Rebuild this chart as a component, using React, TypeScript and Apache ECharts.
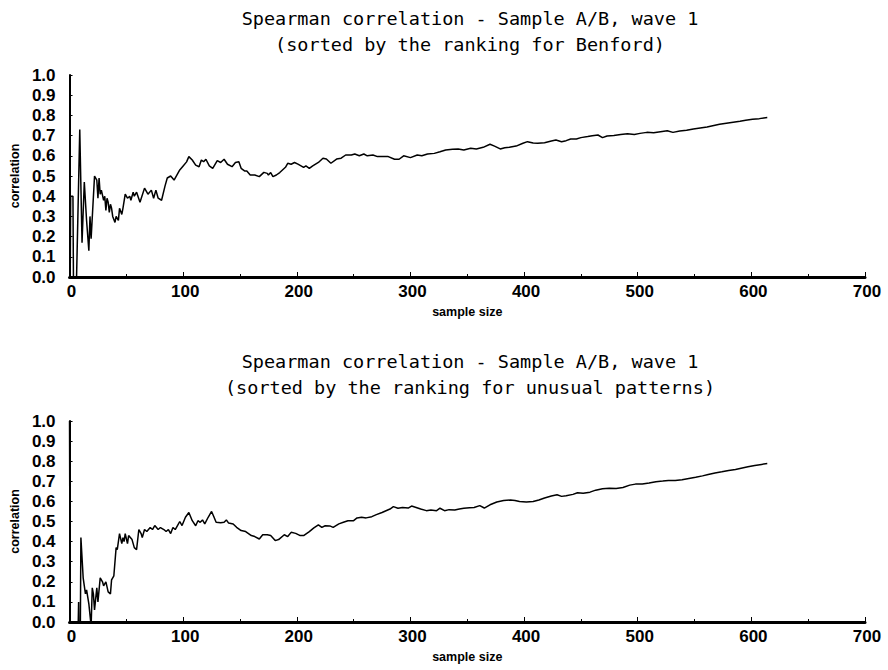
import React, { useEffect, useRef } from "react";
import * as echarts from "echarts";

const titleTop = "Spearman correlation - Sample A/B, wave 1\n(sorted by the ranking for Benford)";
const titleBottom = "Spearman correlation - Sample A/B, wave 1\n(sorted by the ranking for unusual patterns)";
const xTicks = [0, 100, 200, 300, 400, 500, 600, 700];
const yTicks = [0, 0.1, 0.2, 0.3, 0.4, 0.5, 0.6, 0.7, 0.8, 0.9, 1.0];

// Benford ranking: sample size / correlation
const benfordN = [0, 1, 3, 4, 5, 6, 9, 11, 13, 15, 17, 18, 19, 22, 24, 25, 26, 27, 28, 30, 31, 32, 33, 34, 35, 36, 37, 38, 40, 41, 43, 44, 46, 47, 49, 51, 53, 54, 56, 57, 59, 62, 66, 69, 72, 74, 76, 78, 81, 84, 86, 89, 92, 97, 100, 103, 105, 108, 111, 114, 116, 118, 120, 123, 126, 130, 133, 136, 139, 143, 146, 149, 151, 154, 156, 159, 163, 167, 171, 174, 175, 177, 179, 182, 185, 190, 192, 195, 198, 201, 206, 208, 211, 214, 219, 223, 226, 230, 235, 239, 243, 248, 251, 255, 259, 262, 267, 271, 277, 280, 286, 290, 294, 300, 306, 310, 315, 321, 326, 331, 337, 342, 347, 353, 358, 364, 370, 374, 379, 383, 387, 393, 399, 403, 408, 412, 418, 424, 428, 433, 437, 441, 446, 450, 456, 460, 465, 469, 473, 479, 485, 491, 497, 502, 508, 514, 520, 526, 531, 537, 543, 549, 555, 561, 566, 572, 578, 584, 590, 595, 601, 607, 614];
const benfordR = [-0.6, 0.4, 0.4, -0.5, -0.3, -0.05, 0.73, 0.17, 0.47, 0.28, 0.13, 0.3, 0.19, 0.5, 0.48, 0.39, 0.49, 0.41, 0.43, 0.38, 0.4, 0.33, 0.39, 0.37, 0.32, 0.36, 0.34, 0.3, 0.27, 0.3, 0.28, 0.34, 0.31, 0.34, 0.41, 0.39, 0.4, 0.38, 0.42, 0.4, 0.42, 0.37, 0.44, 0.41, 0.43, 0.39, 0.43, 0.39, 0.38, 0.45, 0.49, 0.5, 0.48, 0.53, 0.55, 0.57, 0.596, 0.579, 0.554, 0.546, 0.579, 0.571, 0.583, 0.55, 0.538, 0.576, 0.567, 0.583, 0.558, 0.546, 0.567, 0.571, 0.538, 0.525, 0.525, 0.505, 0.505, 0.497, 0.518, 0.513, 0.505, 0.517, 0.497, 0.505, 0.517, 0.543, 0.563, 0.558, 0.567, 0.559, 0.543, 0.55, 0.538, 0.55, 0.567, 0.588, 0.584, 0.563, 0.584, 0.588, 0.604, 0.604, 0.609, 0.6, 0.609, 0.6, 0.604, 0.596, 0.596, 0.597, 0.583, 0.583, 0.6, 0.591, 0.604, 0.6, 0.609, 0.612, 0.62, 0.629, 0.632, 0.634, 0.629, 0.637, 0.634, 0.642, 0.657, 0.648, 0.634, 0.64, 0.642, 0.648, 0.662, 0.67, 0.663, 0.662, 0.665, 0.673, 0.678, 0.67, 0.675, 0.683, 0.683, 0.69, 0.695, 0.699, 0.703, 0.69, 0.698, 0.701, 0.706, 0.709, 0.706, 0.711, 0.716, 0.714, 0.719, 0.724, 0.716, 0.723, 0.726, 0.733, 0.738, 0.743, 0.749, 0.756, 0.761, 0.766, 0.771, 0.776, 0.781, 0.784, 0.79];

// Unusual-patterns ranking: sample size / correlation
const unusualN = [0, 1, 6, 8, 9, 10, 12, 13, 14, 15, 17, 19, 20, 21, 22, 24, 25, 27, 29, 30, 32, 34, 36, 37, 39, 41, 42, 44, 46, 47, 48, 49, 51, 52, 55, 57, 59, 61, 63, 64, 66, 68, 71, 73, 75, 78, 80, 83, 85, 87, 89, 91, 93, 95, 97, 99, 102, 105, 108, 111, 113, 115, 117, 119, 122, 125, 127, 129, 133, 136, 138, 140, 144, 147, 151, 155, 160, 163, 167, 170, 174, 177, 181, 184, 189, 192, 195, 199, 203, 206, 211, 215, 219, 222, 225, 229, 232, 237, 241, 245, 250, 253, 257, 261, 266, 270, 275, 277, 282, 285, 289, 293, 298, 301, 305, 309, 314, 318, 323, 326, 330, 334, 339, 343, 347, 352, 356, 361, 365, 370, 376, 382, 388, 392, 396, 402, 408, 413, 418, 424, 429, 433, 437, 443, 447, 452, 458, 463, 469, 475, 481, 487, 493, 498, 504, 510, 516, 522, 527, 533, 539, 545, 551, 557, 562, 568, 574, 580, 586, 591, 597, 603, 609, 614];
const unusualR = [1.0, -1.0, -0.5, 0.1, -0.5, 0.42, 0.22, 0.18, 0.14, 0.16, 0.09, -0.02, 0.17, 0.14, 0.06, 0.17, 0.1, 0.22, 0.2, 0.18, 0.2, 0.15, 0.14, 0.21, 0.23, 0.37, 0.36, 0.44, 0.39, 0.42, 0.4, 0.44, 0.39, 0.43, 0.41, 0.37, 0.36, 0.46, 0.44, 0.42, 0.46, 0.45, 0.47, 0.46, 0.48, 0.46, 0.47, 0.46, 0.45, 0.46, 0.44, 0.47, 0.46, 0.48, 0.5, 0.48, 0.521, 0.545, 0.504, 0.479, 0.504, 0.496, 0.508, 0.488, 0.521, 0.55, 0.524, 0.496, 0.494, 0.496, 0.508, 0.492, 0.488, 0.471, 0.455, 0.45, 0.43, 0.425, 0.413, 0.434, 0.434, 0.43, 0.405, 0.41, 0.434, 0.425, 0.446, 0.441, 0.43, 0.43, 0.45, 0.468, 0.483, 0.471, 0.479, 0.478, 0.471, 0.488, 0.496, 0.504, 0.504, 0.518, 0.521, 0.518, 0.524, 0.534, 0.545, 0.55, 0.562, 0.574, 0.566, 0.57, 0.567, 0.577, 0.57, 0.562, 0.554, 0.557, 0.554, 0.566, 0.554, 0.559, 0.557, 0.562, 0.566, 0.569, 0.57, 0.579, 0.567, 0.583, 0.597, 0.604, 0.607, 0.604, 0.599, 0.597, 0.6, 0.607, 0.617, 0.627, 0.633, 0.625, 0.628, 0.635, 0.643, 0.64, 0.646, 0.656, 0.663, 0.666, 0.664, 0.669, 0.681, 0.686, 0.686, 0.691, 0.698, 0.701, 0.704, 0.704, 0.708, 0.714, 0.72, 0.727, 0.734, 0.741, 0.747, 0.754, 0.759, 0.765, 0.772, 0.779, 0.784, 0.788];

const TICK_FONT = "'Liberation Sans', Arial, sans-serif";
const TITLE_FONT = "'DejaVu Sans Mono', monospace";

function xAxisFor(gridIndex: number) {
  return {
    type: "value",
    gridIndex,
    min: xTicks[0],
    max: xTicks[xTicks.length - 1],
    interval: 100,
    name: "sample size",
    nameLocation: "middle",
    nameGap: 28,
    nameTextStyle: { color: "#000", fontSize: 12.5, fontWeight: "bold", fontFamily: TICK_FONT },
    axisLine: { show: true, onZero: false, lineStyle: { color: "#000", width: 3 } },
    axisTick: { show: true, inside: true, length: 5, lineStyle: { color: "#000", width: 1 } },
    minorTick: { show: true, splitNumber: 2, length: 3, lineStyle: { color: "#000", width: 1 } },
    splitLine: { show: false },
    axisLabel: { color: "#000", fontSize: 17, fontWeight: "bold", fontFamily: TICK_FONT, margin: 6, padding: [0, 0, 0, 4] },
  };
}

function yAxisFor(gridIndex: number) {
  return {
    type: "value",
    gridIndex,
    min: yTicks[0],
    max: yTicks[yTicks.length - 1],
    interval: 0.1,
    name: "correlation",
    nameLocation: "middle",
    nameGap: 47,
    nameRotate: 90,
    nameTextStyle: { color: "#000", fontSize: 12.5, fontWeight: "bold", fontFamily: TICK_FONT },
    axisLine: { show: true, lineStyle: { color: "#000", width: 2 } },
    axisTick: { show: true, inside: true, length: 3, lineStyle: { color: "#000", width: 1 } },
    splitLine: { show: false },
    axisLabel: {
      color: "#000",
      fontSize: 17,
      fontWeight: "bold",
      fontFamily: TICK_FONT,
      margin: 14,
      formatter: (v: number) => v.toFixed(1),
    },
  };
}

function pairs(xs: number[], ys: number[]) {
  return xs.map((x, i) => [x, ys[i]]);
}

export default function App() {
  const ref = useRef<HTMLDivElement>(null);
  useEffect(() => {
    if (!ref.current) return;
    const chart = echarts.init(ref.current, undefined, { renderer: "svg" });
    chart.setOption({
      animation: false,
      backgroundColor: "#fff",
      title: [
        {
          text: titleTop,
          left: 465,
          top: 0,
          textAlign: "center",
          textStyle: { color: "#000", fontSize: 18.5, fontWeight: "normal", fontFamily: TITLE_FONT, lineHeight: 26 },
        },
        {
          text: titleBottom,
          left: 465,
          top: 343,
          textAlign: "center",
          textStyle: { color: "#000", fontSize: 18.5, fontWeight: "normal", fontFamily: TITLE_FONT, lineHeight: 26 },
        },
      ],
      grid: [
        { left: 63, top: 75, width: 802, height: 202, containLabel: false },
        { left: 63, top: 421, width: 802, height: 201, containLabel: false },
      ],
      xAxis: [xAxisFor(0), xAxisFor(1)],
      yAxis: [yAxisFor(0), yAxisFor(1)],
      series: [
        {
          type: "line",
          xAxisIndex: 0,
          yAxisIndex: 0,
          data: pairs(benfordN, benfordR),
          showSymbol: false,
          clip: true,
          lineStyle: { color: "#000", width: 1.5 },
        },
        {
          type: "line",
          xAxisIndex: 1,
          yAxisIndex: 1,
          data: pairs(unusualN, unusualR),
          showSymbol: false,
          clip: true,
          lineStyle: { color: "#000", width: 1.5 },
        },
      ],
    });
    return () => chart.dispose();
  }, []);
  return <div ref={ref} style={{ position: "absolute", left: 0, top: 0, width: 888, height: 670 }} />;
}
